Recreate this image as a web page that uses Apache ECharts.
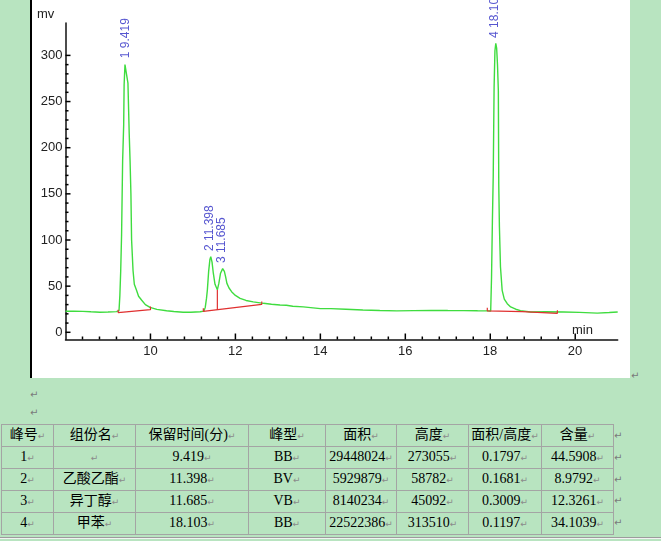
<!DOCTYPE html>
<html>
<head>
<meta charset="utf-8">
<title>色谱图</title>
<script src="https://cdn.jsdelivr.net/npm/echarts@6/dist/echarts.min.js"></script>
<style>
  html, body { margin: 0; padding: 0; }
  body {
    width: 661px; height: 541px; position: relative; overflow: hidden;
    background: #b8e4c0;
    font-family: 'Liberation Serif', 'Noto Sans CJK SC', serif;
  }
  .plot-box {
    position: absolute; left: 30px; top: 0; width: 600px; height: 378px;
    background: #fff; border-left: 2px solid #000; box-sizing: border-box;
  }
  #chart { width: 598px; height: 378px; }
  .mark { position: absolute; font-size: 10px; line-height: 10px; color: #7a7a7a; font-family: 'DejaVu Sans', sans-serif; }
  table.result {
    position: absolute; left: 1px; top: 424px;
    border-collapse: collapse; table-layout: fixed; font-size: 14px; color: #000;
  }
  table.result td {
    border: 1px solid #a4a4a4; height: 20.8px; padding: 0;
    text-align: center; white-space: nowrap; overflow: hidden; line-height: 20px;
  }
  .r { font-size: 9px; color: #8a8a8a; font-family: 'DejaVu Sans', sans-serif; }
  .rule { position: absolute; left: 0; top: 537px; width: 661px; height: 1px; background: #9c9c9c; border-bottom: 1px solid #f2f2f2; }
</style>
</head>
<body>
<div class="plot-box"><div id="chart"></div></div>
<span class="mark" style="left:631px;top:371px">↵</span>
<span class="mark" style="left:30px;top:390px">↵</span>
<span class="mark" style="left:30px;top:408px">↵</span>
<table class="result" id="result"></table>
<div class="rule"></div>

<script>
// 色谱曲线：保留时间(min) 与响应(mV)，从图上逐点读取
const traceTime = [
  8.00, 8.20, 8.41, 8.60, 8.81, 9.00, 9.20, 9.26, 9.28, 9.30,
  9.32, 9.345, 9.37, 9.38, 9.40, 9.42, 9.44, 9.47, 9.50, 9.52,
  9.54, 9.556, 9.59, 9.62, 9.67, 9.72, 9.79, 9.88, 9.99, 10.15,
  10.38, 10.55, 10.77, 10.95, 11.17, 11.26, 11.29, 11.32, 11.34, 11.37,
  11.40, 11.42, 11.45, 11.48, 11.52, 11.575, 11.61, 11.65, 11.70, 11.74,
  11.77, 11.80, 11.85, 11.91, 12.00, 12.11, 12.25, 12.42, 12.66, 12.85,
  13.05, 13.20, 13.35, 13.60, 14.00, 14.25, 14.60, 15.00, 15.40, 15.80,
  16.20, 16.60, 17.00, 17.37, 17.70, 17.93, 18.01, 18.03, 18.05, 18.07,
  18.09, 18.11, 18.13, 18.15, 18.17, 18.19, 18.20, 18.215, 18.24, 18.28,
  18.33, 18.40, 18.48, 18.60, 18.71, 18.95, 19.30, 19.73, 20.10, 20.52,
  20.80, 21.00
];
const traceMv = [
  22.8, 22.9, 22.7, 22.2, 21.7, 22.0, 22.4, 23.5, 40, 67,
  105, 186, 225, 268, 290, 291, 290, 270, 215, 186,
  150, 100, 67, 52, 45.8, 39, 35, 30, 27, 24.8,
  23.4, 22.5, 21.7, 21.8, 22.3, 23, 27, 37, 46, 66,
  79, 82, 76, 64, 52, 46, 53, 64, 69, 66,
  60, 53, 48, 44, 40, 36.8, 34.5, 33, 31.4, 30.4,
  29.6, 29.3, 28.2, 27.5, 25.7, 25.7, 25.0, 24.2, 23.6, 23.2,
  23.5, 23.8, 23.6, 23.5, 23.3, 23.2, 23.0, 60, 120, 170,
  265, 305, 313, 308, 290, 262, 160, 115, 71, 45.5,
  36, 31, 27.5, 25, 23.5, 22, 22.2, 22, 21.6, 20.8,
  21.4, 22
];

// 峰标记
const peakTag = ['1 9.419', '2 11.398', '3 11.685', '4 18.102'];
const peakRt = [9.419, 11.398, 11.685, 18.102];
const peakTop = [291, 82, 69, 313];

// 积分基线（红色）
const base1Time = [9.24, 9.24, 10.0, 10.0];
const base1Mv = [24.5, 21.3, 24.5, 28];
const base23Time = [11.245, 11.245, 12.62, 12.62];
const base23Mv = [26, 22.6, 30.2, 33.5];
const split23Time = [11.575, 11.575];
const split23Mv = [24.2, 45.8];
const base4Time = [17.93, 17.93, 18.75, 18.76, 19.58, 19.58];
const base4Mv = [26.5, 23.2, 22.4, 21.0, 20.6, 24];

// 坐标范围与刻度
const xMin = 8, xMax = 21;
const yMin = -7.8, yMax = 335.1;
const xMajorTicks = [10, 12, 14, 16, 18, 20];
const xMinorTicks = [8.4, 8.8, 9.2, 9.6, 10.4, 10.8, 11.2, 11.6, 12.4, 12.8, 13.2, 13.6,
  14.4, 14.8, 15.2, 15.6, 16.4, 16.8, 17.2, 17.6, 18.4, 18.8, 19.2, 19.6];
const yMajorTicks = [0, 50, 100, 150, 200, 250, 300];
const yMinorTicks = [10, 20, 30, 40, 60, 70, 80, 90, 110, 120, 130, 140, 160, 170, 180, 190,
  210, 220, 230, 240, 260, 270, 280, 290];

// 结果表
const tblHead = ['峰号', '组份名', '保留时间(分)', '峰型', '面积', '高度', '面积/高度', '含量'];
const tblPeak = ['1', '2', '3', '4'];
const tblName = ['', '乙酸乙酯', '异丁醇', '甲苯'];
const tblRt = ['9.419', '11.398', '11.685', '18.103'];
const tblType = ['BB', 'BV', 'VB', 'BB'];
const tblArea = ['29448024', '5929879', '8140234', '22522386'];
const tblHeight = ['273055', '58782', '45092', '313510'];
const tblRatio = ['0.1797', '0.1681', '0.3009', '0.1197'];
const tblContent = ['44.5908', '8.9792', '12.3261', '34.1039'];

const colWidths = [52, 82, 113, 77, 71, 72, 73, 72];

const pair = (xs, ys) => xs.map((x, i) => [x, ys[i]]);

// 表格
const table = document.getElementById('result');
const colgroup = document.createElement('colgroup');
colWidths.forEach(w => {
  const c = document.createElement('col');
  c.style.width = w + 'px';
  colgroup.appendChild(c);
});
table.appendChild(colgroup);
const addRow = cells => {
  const tr = document.createElement('tr');
  cells.forEach(txt => {
    const td = document.createElement('td');
    td.innerHTML = txt + '<span class="r">↵</span>';
    tr.appendChild(td);
  });
  table.appendChild(tr);
};
addRow(tblHead);
tblPeak.forEach((p, i) => {
  addRow([p, tblName[i], tblRt[i], tblType[i], tblArea[i], tblHeight[i], tblRatio[i], tblContent[i]]);
});
// 行尾段落标记
[431, 453, 475, 496, 518].forEach(y => {
  const s = document.createElement('span');
  s.className = 'mark';
  s.style.left = '614px';
  s.style.top = y + 'px';
  s.textContent = '↵';
  document.body.appendChild(s);
});

const red = '#e03030';
const redLine = (xs, ys) => ({
  type: 'line', data: pair(xs, ys), showSymbol: false, silent: true,
  lineStyle: { color: red, width: 1.2 }, z: 3
});

// 刻度线：用 custom 系列按坐标轴换算位置，朝图内画
const xTicks = (values, len, w) => ({
  type: 'custom', silent: true, z: 5, clip: false,
  data: values.map(v => [v, yMin]),
  renderItem: (params, api) => {
    const p = api.coord([api.value(0), api.value(1)]);
    return {
      type: 'line',
      shape: { x1: p[0], y1: p[1], x2: p[0], y2: p[1] - len },
      style: { stroke: '#000', lineWidth: w }
    };
  }
});
const yTicks = (values, len, w) => ({
  type: 'custom', silent: true, z: 5, clip: false,
  data: values.map(v => [xMin, v]),
  renderItem: (params, api) => {
    const p = api.coord([api.value(0), api.value(1)]);
    return {
      type: 'line',
      shape: { x1: p[0], y1: p[1], x2: p[0] + len, y2: p[1] },
      style: { stroke: '#000', lineWidth: w }
    };
  }
});

// grid 0 放曲线、轴线与刻度；grid 1 只放刻度标签（0~300 mV, 8~20 min）
const chart = echarts.init(document.getElementById('chart'));
chart.setOption({
  animation: false,
  grid: [
    { left: 33.5, right: 12.3, top: 23, bottom: 38.5, outerBoundsMode: 'none' },
    { left: 33.5, right: 55, top: 55.4, bottom: 45.7, outerBoundsMode: 'none' }
  ],
  xAxis: [
    {
      type: 'value', gridIndex: 0, min: xMin, max: xMax,
      axisLine: { show: true, onZero: false, lineStyle: { color: '#111', width: 1.5 } },
      axisTick: { show: false }, axisLabel: { show: false }, splitLine: { show: false }
    },
    {
      type: 'value', gridIndex: 1, min: 8, max: 20, interval: 2, offset: 7.2,
      axisLine: { show: false, onZero: false }, axisTick: { show: false },
      axisLabel: { showMinLabel: false, margin: 5, color: '#222', fontSize: 13, fontFamily: 'Liberation Sans' },
      splitLine: { show: false }
    }
  ],
  yAxis: [
    {
      type: 'value', gridIndex: 0, min: yMin, max: yMax,
      axisLine: { show: true, onZero: false, lineStyle: { color: '#111', width: 1.5 } },
      axisTick: { show: false }, axisLabel: { show: false }, splitLine: { show: false }
    },
    {
      type: 'value', gridIndex: 1, min: 0, max: 300, interval: 50,
      axisLine: { show: false, onZero: false }, axisTick: { show: false },
      axisLabel: { margin: 3, color: '#222', fontSize: 13, fontFamily: 'Liberation Sans' },
      splitLine: { show: false }
    }
  ],
  graphic: [
    { type: 'text', left: 5, top: 8, style: { text: 'mv', fill: '#222', font: '13px Liberation Sans' } },
    { type: 'text', left: 540, top: 324, style: { text: 'min', fill: '#222', font: '13px Liberation Sans' } }
  ],
  series: [
    {
      type: 'line', data: pair(traceTime, traceMv), showSymbol: false, silent: true,
      lineStyle: { color: '#3fdc3f', width: 1.4 }, z: 2
    },
    redLine(base1Time, base1Mv),
    redLine(base23Time, base23Mv),
    redLine(split23Time, split23Mv),
    redLine(base4Time, base4Mv),
    xTicks(xMajorTicks, 6, 1.5),
    xTicks(xMinorTicks, 3, 1.5),
    yTicks(yMajorTicks, 5, 1.5),
    yTicks(yMinorTicks, 3, 1.5),
    {
      type: 'scatter', data: pair(peakRt, peakTop), symbolSize: 1, silent: true,
      itemStyle: { color: 'rgba(0,0,0,0)' }, z: 4,
      label: {
        show: true, position: 'top', distance: 5, rotate: 90,
        align: 'left', verticalAlign: 'middle',
        color: '#2c2cc4', fontSize: 12, fontFamily: 'Liberation Sans',
        formatter: p => peakTag[p.dataIndex]
      }
    }
  ]
});
</script>
</body>
</html>
